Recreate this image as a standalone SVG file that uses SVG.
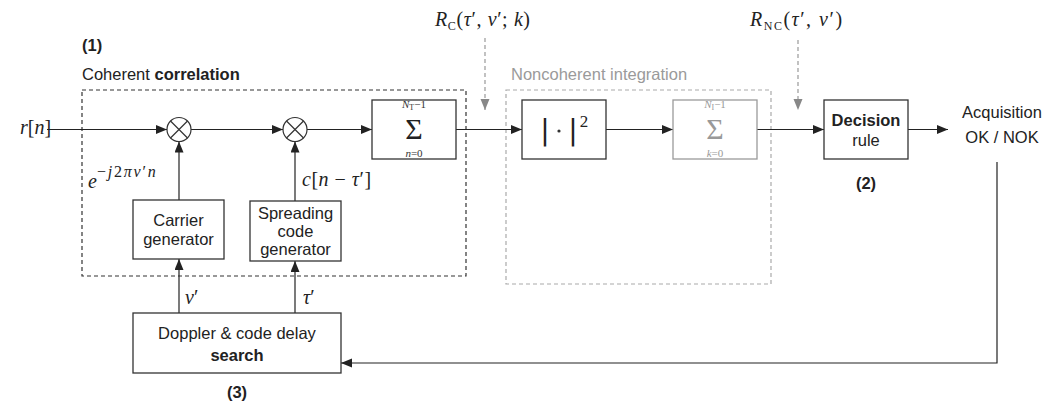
<svg xmlns="http://www.w3.org/2000/svg" width="1053" height="409" viewBox="0 0 1053 409">
<style>
.box{fill:#fff;stroke:#333;stroke-width:1.3}
.gbox{fill:#fff;stroke:#9a9a9a;stroke-width:1.3}
.ln{fill:none;stroke:#222;stroke-width:1.2}
.gln{fill:none;stroke:#999;stroke-width:1.2;stroke-dasharray:4 3}
.sans{font-family:"Liberation Sans",Arial,sans-serif;font-size:16.5px;fill:#222}
.b{font-weight:bold}
.m{font-family:"Liberation Serif","Times New Roman",serif;font-size:20px;fill:#222}
.i{font-style:italic}
.sm{font-family:"Liberation Serif","Times New Roman",serif;font-size:11px;fill:#333}
.bar{font-family:"DejaVu Sans",sans-serif;font-size:28px;fill:#222}
.sig{font-family:"Liberation Serif","Times New Roman",serif;font-size:30px}
</style>
<defs>
<marker id="ah" markerUnits="userSpaceOnUse" markerWidth="12" markerHeight="10" refX="11" refY="4.5" orient="auto"><path d="M0,0 L11,4.5 L0,9 z" fill="#222"/></marker>
<marker id="gah" markerUnits="userSpaceOnUse" markerWidth="12" markerHeight="10" refX="11" refY="4.5" orient="auto"><path d="M0,0 L11,4.5 L0,9 z" fill="#888"/></marker>
</defs>

<g id="labels">
<text class="sans b" x="82" y="51">(1)</text>
<text class="sans" x="82" y="80">Coherent <tspan class="b">correlation</tspan></text>
<text class="sans" x="511" y="80" style="fill:#9a9a9a">Noncoherent integration</text>
<text class="sans b" x="866" y="189" text-anchor="middle">(2)</text>
<text class="sans b" x="237" y="398" text-anchor="middle">(3)</text>
<text class="m" x="20" y="134"><tspan class="i">r</tspan>[<tspan class="i">n</tspan>]</text>
<text class="m" x="435" y="26" letter-spacing="0.6"><tspan class="i">R</tspan><tspan font-size="12" dy="4">C</tspan><tspan dy="-4">(</tspan><tspan class="i">τ</tspan>′, <tspan class="i">ν</tspan>′; <tspan class="i">k</tspan>)</text>
<text class="m" x="750" y="26" letter-spacing="1.5"><tspan class="i">R</tspan><tspan font-size="12" dy="4">NC</tspan><tspan dy="-4">(</tspan><tspan class="i">τ</tspan>′, <tspan class="i">ν</tspan>′)</text>
<text class="m" x="88" y="188" font-size="23"><tspan class="i">e</tspan><tspan font-size="16" dy="-11" letter-spacing="1.8">−<tspan class="i">j</tspan>2<tspan class="i">πν</tspan>′<tspan class="i">n</tspan></tspan></text>
<text class="m" x="302" y="186" letter-spacing="0.5"><tspan class="i">c</tspan>[<tspan class="i">n</tspan> − <tspan class="i">τ</tspan>′]</text>
<text class="m" x="185" y="304" font-size="22"><tspan class="i">ν</tspan>′</text>
<text class="m" x="303" y="304" font-size="22"><tspan class="i">τ</tspan>′</text>
<text class="sans" x="1002" y="118" text-anchor="middle">Acquisition</text>
<text class="sans" x="1002" y="143" text-anchor="middle">OK / NOK</text>
</g>

<g id="regions">
<rect x="82" y="90" width="384" height="186" fill="none" stroke="#333" stroke-width="1.2" stroke-dasharray="4 3"/>
<rect x="506" y="90" width="265" height="194" fill="none" stroke="#aaa" stroke-width="1.2" stroke-dasharray="4 3"/>
</g>

<g id="connectors">
<line class="ln" x1="47" y1="129.5" x2="167" y2="129.5" marker-end="url(#ah)"/>
<line class="ln" x1="191" y1="129.5" x2="283" y2="129.5" marker-end="url(#ah)"/>
<line class="ln" x1="307" y1="129.5" x2="372" y2="129.5" marker-end="url(#ah)"/>
<line class="ln" x1="456" y1="129.5" x2="522" y2="129.5" marker-end="url(#ah)"/>
<line class="ln" x1="606" y1="129.5" x2="673" y2="129.5" marker-end="url(#ah)"/>
<line class="ln" x1="757" y1="129.5" x2="824" y2="129.5" stroke="#555" marker-end="url(#ah)"/>
<line class="ln" x1="908" y1="129.5" x2="948" y2="129.5" marker-end="url(#ah)"/>
<line class="ln" x1="179" y1="200" x2="179" y2="141.5" marker-end="url(#ah)"/>
<line class="ln" x1="295" y1="201" x2="295" y2="141.5" marker-end="url(#ah)"/>
<line class="ln" x1="179" y1="313" x2="179" y2="259" marker-end="url(#ah)"/>
<line class="ln" x1="295" y1="313" x2="295" y2="261" marker-end="url(#ah)"/>
<polyline class="ln" points="997,162 997,363 341,363" marker-end="url(#ah)"/>
<line class="gln" x1="485" y1="38" x2="485" y2="110" marker-end="url(#gah)"/>
<line class="gln" x1="798" y1="40" x2="798" y2="110" marker-end="url(#gah)"/>
</g>

<g id="mult1">
<circle cx="179" cy="129.5" r="12" fill="#fff" stroke="#333" stroke-width="1.2"/>
<path d="M170.5,121 L187.5,138 M187.5,121 L170.5,138" stroke="#333" stroke-width="1.2"/>
</g>
<g id="mult2">
<circle cx="295" cy="129.5" r="12" fill="#fff" stroke="#333" stroke-width="1.2"/>
<path d="M286.5,121 L303.5,138 M303.5,121 L286.5,138" stroke="#333" stroke-width="1.2"/>
</g>

<g id="sum1">
<rect class="box" x="372" y="100" width="84" height="59"/>
<text class="sm" x="414" y="108" text-anchor="middle"><tspan class="i">N</tspan><tspan font-size="8" dy="2">T</tspan><tspan dy="-2">−1</tspan></text>
<text class="sig" x="414" y="139" text-anchor="middle" fill="#222">Σ</text>
<text class="sm" x="414" y="157" text-anchor="middle"><tspan class="i">n</tspan>=0</text>
</g>

<g id="abs2">
<rect class="box" x="522" y="100" width="84" height="59"/>
<text class="bar" x="545" y="140" text-anchor="middle">|</text>
<circle cx="559" cy="131" r="1.6" fill="#333"/>
<text class="bar" x="573" y="140" text-anchor="middle">|</text>
<text x="584" y="127" font-family="Liberation Serif,serif" font-size="17" fill="#222" text-anchor="middle">2</text>
</g>

<g id="sum2">
<rect class="gbox" x="673" y="100" width="84" height="59"/>
<text class="sm" x="715" y="108" text-anchor="middle" style="fill:#999"><tspan class="i">N</tspan><tspan font-size="8" dy="2">I</tspan><tspan dy="-2">−1</tspan></text>
<text class="sig" x="715" y="139" text-anchor="middle" fill="#999">Σ</text>
<text class="sm" x="715" y="157" text-anchor="middle" style="fill:#999"><tspan class="i">k</tspan>=0</text>
</g>

<g id="decision">
<rect class="box" x="824" y="100" width="84" height="59"/>
<text class="sans b" x="866" y="126" text-anchor="middle">Decision</text>
<text class="sans" x="866" y="146" text-anchor="middle">rule</text>
</g>

<g id="carrier">
<rect class="box" x="133" y="200" width="91" height="59"/>
<text class="sans" x="178.5" y="226" text-anchor="middle">Carrier</text>
<text class="sans" x="178.5" y="245" text-anchor="middle">generator</text>
</g>

<g id="spreading">
<rect class="box" x="250" y="201" width="91" height="60"/>
<text class="sans" x="295.5" y="219" text-anchor="middle">Spreading</text>
<text class="sans" x="295.5" y="237" text-anchor="middle">code</text>
<text class="sans" x="295.5" y="255" text-anchor="middle">generator</text>
</g>

<g id="search">
<rect class="box" x="133" y="313" width="208" height="60"/>
<text class="sans" x="237" y="339" text-anchor="middle">Doppler &amp; code delay</text>
<text class="sans b" x="237" y="361" text-anchor="middle">search</text>
</g>
</svg>
